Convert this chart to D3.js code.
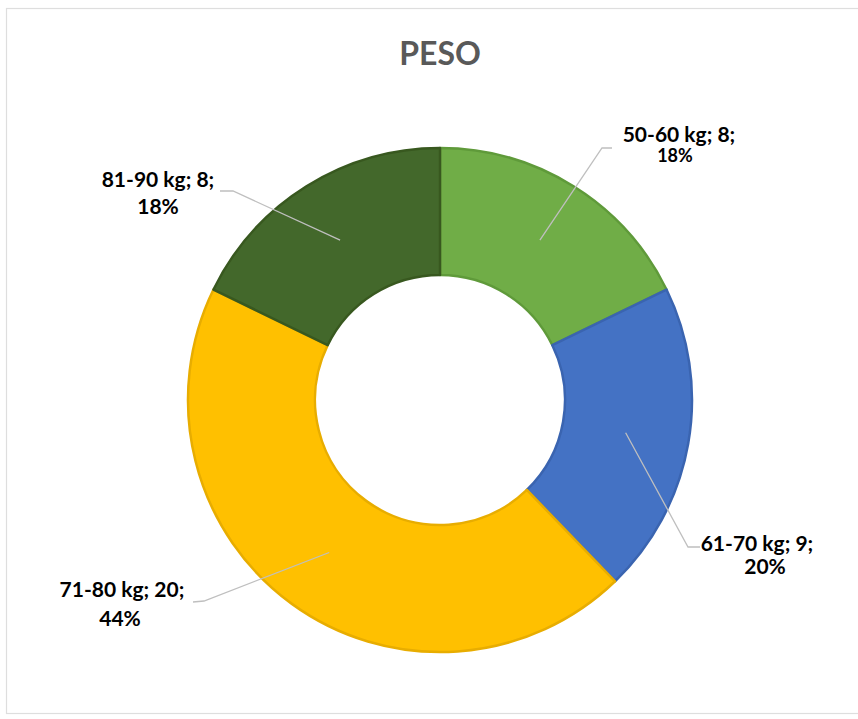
<!DOCTYPE html>
<html lang="es">
<head>
<meta charset="utf-8">
<title>PESO</title>
<script src="https://d3js.org/d3.v7.min.js"></script>
<style>
  body { margin: 0; background: #fff; font-family: Lato, "Open Sans", sans-serif; }
  svg { display: block; }
</style>
</head>
<body>
<div id="chart"></div>
<script>
// data
const categories = ["50-60 kg", "61-70 kg", "71-80 kg", "81-90 kg"];
const counts = [8, 9, 20, 8];
const percents = ["18%", "20%", "44%", "18%"];
const colors = ["#70ad47", "#4472c4", "#ffc000", "#43682b"];
const edgeColors = ["#5f9a3a", "#3a64b0", "#e8ad00", "#38581f"];

// label placement (layout only): line centres, baselines, leader elbow/end
const labelLayout = [
  { x1: 679, y1: 142, x2: 675, y2: 162, small: true, elbow: [602, 148], end: [612, 148] },
  { x1: 757, y1: 551, x2: 765, y2: 574, small: false, elbow: [688, 547], end: [700, 547] },
  { x1: 122, y1: 597, x2: 120, y2: 626, small: false, elbow: [204, 601], end: [193, 602] },
  { x1: 158, y1: 187, x2: 158, y2: 214, small: false, elbow: [233, 191], end: [220, 191] }
];

const W = 858, H = 719;
const cx = 440, cy = 400, rOuter = 252, rInner = 125;

const svg = d3.select("#chart").append("svg")
  .attr("width", W).attr("height", H);

// chart frame
svg.append("rect")
  .attr("x", 6.5).attr("y", 8.5)
  .attr("width", 900).attr("height", 705)
  .attr("fill", "#fff")
  .attr("stroke", "#dedede").attr("stroke-width", 1.2);

svg.append("text")
  .attr("x", cx).attr("y", 65)
  .attr("text-anchor", "middle")
  .attr("font-size", 32).attr("font-weight", 700)
  .attr("fill", "#595959")
  .text("PESO");

const pie = d3.pie().sort(null).value(d => d)(counts);
const arc = d3.arc().innerRadius(rInner).outerRadius(rOuter);

const g = svg.append("g").attr("transform", `translate(${cx},${cy})`);

g.selectAll("path.slice")
  .data(pie)
  .join("path")
  .attr("class", "slice")
  .attr("d", arc)
  .attr("fill", (d, i) => colors[i])
  .attr("stroke", (d, i) => edgeColors[i])
  .attr("stroke-width", 2.5)
  .attr("stroke-linejoin", "round");

// leader lines
svg.selectAll("polyline.leader")
  .data(pie)
  .join("polyline")
  .attr("class", "leader")
  .attr("points", (d, i) => {
    const c = arc.centroid(d);
    const L = labelLayout[i];
    return [[c[0] + cx, c[1] + cy], L.elbow, L.end].map(p => p.join(",")).join(" ");
  })
  .attr("fill", "none")
  .attr("stroke", "#bfbfbf")
  .attr("stroke-width", 1.3);

// labels
const labels = svg.selectAll("g.lbl")
  .data(pie)
  .join("g")
  .attr("class", "lbl")
  .attr("font-weight", 700)
  .attr("fill", "#000")
  .attr("text-anchor", "middle");

labels.append("text")
  .attr("x", (d, i) => labelLayout[i].x1)
  .attr("y", (d, i) => labelLayout[i].y1)
  .attr("font-size", 21)
  .text((d, i) => `${categories[i]}; ${counts[i]};`);

labels.append("text")
  .attr("x", (d, i) => labelLayout[i].x2)
  .attr("y", (d, i) => labelLayout[i].y2)
  .attr("font-size", (d, i) => labelLayout[i].small ? 18 : 21)
  .text((d, i) => percents[i]);
</script>
</body>
</html>
